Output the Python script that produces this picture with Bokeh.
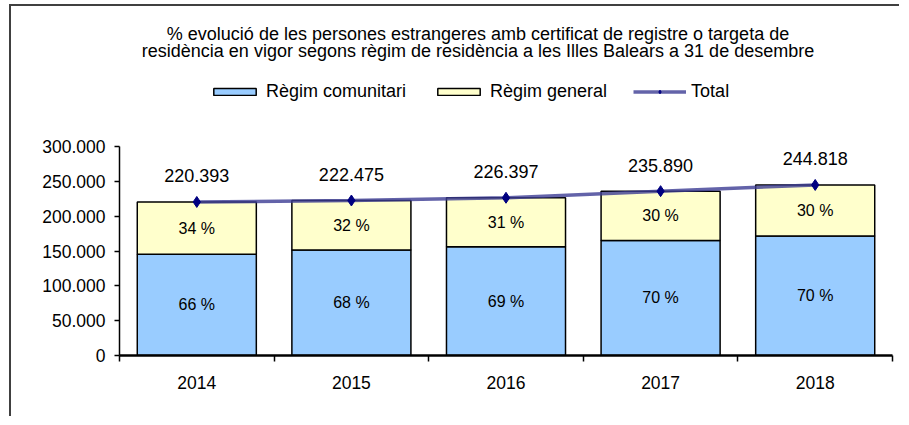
from bokeh.plotting import figure
from bokeh.models import (Range1d, FixedTicker, Legend, LegendItem, Label, ColumnDataSource)
from bokeh.core.properties import value
from bokeh.embed import file_html
from bokeh.resources import INLINE

years = ["2014", "2015", "2016", "2017", "2018"]
totals = [220393, 222475, 226397, 235890, 244818]
comunitari = [145459, 151283, 156214, 165123, 171373]
general = [t - c for t, c in zip(totals, comunitari)]
pct_com = ["66 %", "68 %", "69 %", "70 %", "70 %"]
pct_gen = ["34 %", "32 %", "31 %", "30 %", "30 %"]
total_labels = ["220.393", "222.475", "226.397", "235.890", "244.818"]
y_ticks = [0, 50000, 100000, 150000, 200000, 250000, 300000]
title_lines = ["%  evolució de les persones estrangeres amb certificat de registre o targeta de",
               "residència en vigor segons règim de residència a les  Illes Balears a 31 de desembre"]

FONT = "Liberation Sans"
xc = [i + 0.5 for i in range(len(years))]
bounds = [float(i) for i in range(len(years) + 1)]

# layout (pixels): frame spans the whole chart area; value axis limited with bounds
FRAME_TOP_PX, AXIS_TOP_PX, AXIS_ZERO_PX = 6, 146, 355
y_max = y_ticks[-1]
y_end = y_max * (AXIS_ZERO_PX - FRAME_TOP_PX) / (AXIS_ZERO_PX - AXIS_TOP_PX)

src = ColumnDataSource(dict(
    x=xc, com=comunitari, gen=general, tot=totals,
    gen_bottom=comunitari, gen_top=[c + g for c, g in zip(comunitari, general)],
    com_mid=[c / 2 for c in comunitari],
    gen_mid=[c + g / 2 for c, g in zip(comunitari, general)],
    pc=pct_com, pg=pct_gen, tl=total_labels,
))

p = figure(width=890, height=412, output_backend="svg", toolbar_location=None,
           x_range=Range1d(0, len(years)), y_range=Range1d(0, y_end),
           min_border_left=108, min_border_right=9, min_border_top=0, min_border_bottom=63,
           styles={"border-left": "2px solid #404040", "border-top": "2px solid #404040",
                   "margin-left": "9px", "margin-top": "4px"})
p.outline_line_color = None
p.xgrid.visible = False
p.ygrid.visible = False

r_com = p.vbar(x="x", top="com", bottom=0, width=0.77, source=src,
               fill_color="#99CCFF", line_color="black", line_width=1.5)
r_gen = p.vbar(x="x", top="gen_top", bottom="gen_bottom", width=0.77, source=src,
               fill_color="#FFFFCC", line_color="black", line_width=1.5)
r_line = p.line(x="x", y="tot", source=src, line_color="#3c3c94", line_width=3.5, line_alpha=0.8)
r_pts = p.scatter(x="x", y="tot", source=src, marker="diamond", size=11,
                  fill_color="#000080", line_color="#000080")

p.text(x="x", y="com_mid", text="pc", source=src, text_font=value(FONT), text_font_size="16px",
       text_align="center", text_baseline="middle", text_color="black")
p.text(x="x", y="gen_mid", text="pg", source=src, text_font=value(FONT), text_font_size="16px",
       text_align="center", text_baseline="middle", text_color="black")
p.text(x="x", y="tot", text="tl", source=src, text_font=value(FONT), text_font_size="18px",
       text_align="center", text_baseline="middle", text_color="black", y_offset=-26)

# axes
p.yaxis.ticker = FixedTicker(ticks=y_ticks)
p.yaxis.bounds = (0, y_max)
p.yaxis.major_label_overrides = {t: f"{t:,}".replace(",", ".") for t in y_ticks}
p.yaxis.major_tick_out = 5
p.yaxis.major_tick_in = 0
p.yaxis.minor_tick_out = 0
p.yaxis.axis_line_width = 1.5
p.yaxis.major_tick_line_width = 1.5
p.yaxis.major_label_standoff = 9
p.yaxis.major_label_text_font = FONT
p.yaxis.major_label_text_font_size = "17.5px"
p.yaxis.major_label_text_color = "black"
p.yaxis.axis_line_color = "black"

p.xaxis.ticker = FixedTicker(ticks=xc, minor_ticks=bounds)
p.xaxis.major_label_overrides = {x: y for x, y in zip(xc, years)}
p.xaxis.major_tick_out = 0
p.xaxis.major_tick_in = 0
p.xaxis.minor_tick_out = 6
p.xaxis.minor_tick_in = 0
p.xaxis.minor_tick_line_color = "black"
p.xaxis.minor_tick_line_width = 1.5
p.xaxis.axis_line_width = 2.5
p.xaxis.axis_line_color = "black"
p.xaxis.major_label_standoff = 14
p.xaxis.major_label_text_font = FONT
p.xaxis.major_label_text_font_size = "17.5px"
p.xaxis.major_label_text_color = "black"

# title lines
for i, line in enumerate(title_lines):
    p.add_layout(Label(x=361, y=322 - 17 * i, x_units="screen", y_units="screen", text=line,
                       text_font=FONT, text_font_size="18px", text_align="center",
                       text_baseline="middle", text_color="black"))

legend = Legend(items=[
    LegendItem(label="Règim comunitari", renderers=[r_com]),
    LegendItem(label="Règim general", renderers=[r_gen]),
    LegendItem(label="Total", renderers=[r_line, r_pts]),
], orientation="horizontal", location=(89, 253), glyph_width=53, glyph_height=9,
    label_standoff=5, spacing=26, padding=0, margin=0, border_line_color=None,
    background_fill_alpha=0, label_text_font=FONT, label_text_font_size="18px",
    label_text_color="black", label_height=18)
p.add_layout(legend, "center")

open("out.html", "w").write(file_html(p, INLINE))
